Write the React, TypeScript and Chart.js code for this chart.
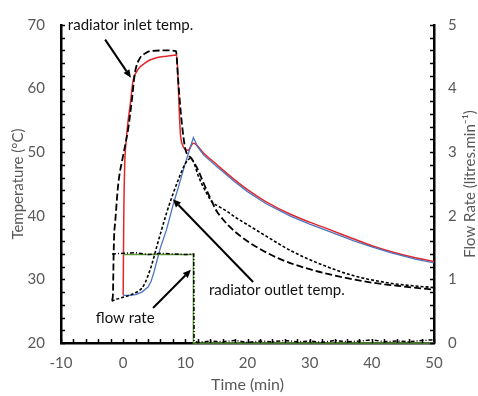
import React, { useEffect, useRef } from 'react';
import { Chart, registerables } from 'chart.js';

Chart.register(...registerables);

// ---- Data ----
const inletModelT = [0, 0.1, 0.25, 0.5, 0.8, 1.1, 1.6, 2.2, 2.7, 3.5, 4.3, 5.5, 7, 8.6, 8.8, 9.0, 9.2, 9.6, 10.4, 11.3, 13, 15, 18, 20, 23, 27, 30, 33, 37, 40, 43, 47, 50];
const inletModelV = [27.5, 40, 48, 52, 55, 57.2, 61.3, 62.7, 63.4, 64.0, 64.5, 64.9, 65.1, 65.3, 62.2, 57, 53, 51, 50.3, 51.4, 49.8, 48.1, 45.6, 44.1, 42.2, 40.2, 39.0, 37.9, 36.4, 35.3, 34.4, 33.4, 32.8];

const outletModelT = [0, 1, 2, 3, 4, 4.5, 5, 5.5, 6, 7, 8, 9, 10, 11.3, 12, 13, 15, 18, 20, 23, 27, 30, 33, 37, 40, 43, 47, 50];
const outletModelV = [27.5, 27.5, 27.6, 28.0, 28.8, 29.7, 31.3, 33.2, 35.0, 37.9, 41.6, 44.9, 48.3, 52.3, 50.8, 49.5, 47.8, 45.3, 43.8, 41.9, 39.9, 38.7, 37.6, 36.1, 35.1, 34.2, 33.2, 32.6];

const inletMeasT = [-1.8, -1.65, -1.55, -1.45, -1.3, -0.8, 0, 0.3, 0.8, 1.4, 1.9, 2.7, 3.5, 4.3, 7, 8.5, 8.8, 9.2, 9.5, 10, 11, 12, 13, 14, 15, 16, 17, 20, 25, 30, 35, 40, 45, 50];
const inletMeasV = [26.7, 27.5, 33, 37, 38.8, 44.9, 49.5, 51, 53.6, 58.2, 62.5, 64.8, 65.5, 65.9, 66.0, 65.9, 62, 57, 54, 50.5, 49, 47.3, 45, 42.8, 40.8, 39.5, 38.4, 36, 33.3, 31.6, 30.4, 29.5, 28.9, 28.4];

const outletMeasT = [-1.85, -1, 0, 1, 2, 3, 3.5, 4, 4.5, 5, 5.5, 6, 7, 8, 9, 10, 10.8, 11.3, 12, 12.7, 13.5, 14.3, 15.5, 16.7, 18, 20, 23, 27, 32, 37, 43, 50];
const outletMeasV = [26.6, 26.9, 27.2, 27.5, 27.9, 28.6, 29.4, 30.6, 32.0, 33.7, 35.5, 37.2, 40.5, 43.4, 46.0, 48.2, 49.0, 48.5, 46.5, 44.9, 43.4, 42.2, 41.4, 40.7, 39.8, 38.6, 36.8, 34.5, 32.3, 30.6, 29.4, 28.7];

const flowMeasT = [-1.8, 0, 2, 4, 6, 8, 10, 11.35, 11.4, 12, 14, 16, 18, 20, 22, 24, 26, 28, 30, 32, 34, 36, 38, 40, 42, 44, 46, 48, 50];
const flowMeasV = [1.40, 1.41, 1.42, 1.39, 1.41, 1.40, 1.39, 1.40, 0.03, 0.01, 0.03, 0.02, 0.04, 0.01, 0.03, 0.02, 0.04, 0.02, 0.03, 0.01, 0.04, 0.02, 0.03, 0.05, 0.02, 0.03, 0.02, 0.04, 0.05];

const flowModelT = [0, 11.3, 11.3, 50];
const flowModelV = [1.39, 1.39, 0, 0];

const xTicks = [-10, 0, 10, 20, 30, 40, 50];
const tempTicks = [20, 30, 40, 50, 60, 70];
const flowTicks = [0, 1, 2, 3, 4, 5];

// annotations: [text, t, temp] and arrows [t1, temp1, t2, temp2]
const labelTexts = ['radiator inlet temp.', 'radiator outlet temp.', 'flow rate'];
const labelPos = [[-8.9, 69.2], [13.8, 27.6], [-4.4, 23.2]];
const arrows = [[-2.9, 67.7, 1.25, 61.7], [20.9, 29.6, 8.0, 42.6], [4.8, 25.5, 10.9, 31.5]];

const pts = (t: number[], v: number[]) => t.map((x, i) => ({ x, y: v[i] }));

const FONT = 'Lato, "Open Sans", sans-serif';
const GREY = '#595959';

const decorPlugin = {
  id: 'decor',
  afterDraw(chart: any) {
    const ctx = chart.ctx;
    const xs = chart.scales.x;
    const ys = chart.scales.y;
    const fs = chart.scales.y1;
    const area = chart.chartArea;
    ctx.save();
    // minor/major ticks inward
    ctx.strokeStyle = '#000';
    ctx.lineWidth = 1.5;
    ctx.beginPath();
    for (let v = 20; v <= 70; v += 2) {
      const y = Math.round(ys.getPixelForValue(v)) + 0.5;
      ctx.moveTo(area.left, y);
      ctx.lineTo(area.left + 4, y);
    }
    for (let t = -10; t <= 50; t += 2) {
      const x = Math.round(xs.getPixelForValue(t)) + 0.5;
      ctx.moveTo(x, area.bottom);
      ctx.lineTo(x, area.bottom - 4);
    }
    for (let i = 0; i <= 25; i++) {
      const y = Math.round(fs.getPixelForValue(i * 0.2)) + 0.5;
      ctx.moveTo(area.right, y);
      ctx.lineTo(area.right - 4, y);
    }
    ctx.stroke();

    // axis titles
    ctx.fillStyle = GREY;
    ctx.font = `16px ${FONT}`;
    ctx.textAlign = 'center';
    ctx.textBaseline = 'middle';
    ctx.fillText('Time (min)', (area.left + area.right) / 2, 385);
    const cy = (area.top + area.bottom) / 2;
    ctx.font = `15px ${FONT}`;
    ctx.save();
    ctx.translate(18, cy);
    ctx.rotate(-Math.PI / 2);
    ctx.fillText('Temperature (°C)', 0, 0);
    ctx.restore();
    ctx.save();
    ctx.translate(470, cy);
    ctx.rotate(-Math.PI / 2);
    ctx.fillText('Flow Rate (litres.min⁻¹)', 0, 0);
    ctx.restore();

    // annotations
    ctx.fillStyle = '#111';
    ctx.font = `15px ${FONT}`;
    ctx.textAlign = 'left';
    ctx.textBaseline = 'alphabetic';
    labelTexts.forEach((s, i) => {
      ctx.fillText(s, xs.getPixelForValue(labelPos[i][0]), ys.getPixelForValue(labelPos[i][1]));
    });
    ctx.strokeStyle = '#000';
    ctx.fillStyle = '#000';
    ctx.lineWidth = 2;
    arrows.forEach(a => {
      const x1 = xs.getPixelForValue(a[0]);
      const y1 = ys.getPixelForValue(a[1]);
      const x2 = xs.getPixelForValue(a[2]);
      const y2 = ys.getPixelForValue(a[3]);
      const ang = Math.atan2(y2 - y1, x2 - x1);
      const hl = 8, hw = 3.5;
      const bx = x2 - hl * Math.cos(ang);
      const by = y2 - hl * Math.sin(ang);
      ctx.beginPath();
      ctx.moveTo(x1, y1);
      ctx.lineTo(bx, by);
      ctx.stroke();
      ctx.beginPath();
      ctx.moveTo(x2, y2);
      ctx.lineTo(bx + hw * Math.sin(ang), by - hw * Math.cos(ang));
      ctx.lineTo(bx - hw * Math.sin(ang), by + hw * Math.cos(ang));
      ctx.closePath();
      ctx.fill();
    });
    ctx.restore();
  },
};

export default function App() {
  const ref = useRef<HTMLCanvasElement | null>(null);
  useEffect(() => {
    if (!ref.current) return;
    const common = { pointRadius: 0, fill: false, cubicInterpolationMode: 'monotone' as const };
    const chart = new Chart(ref.current, {
      type: 'line',
      data: {
        datasets: [
          { ...common, label: 'flow measured', data: pts(flowMeasT, flowMeasV), yAxisID: 'y1', borderColor: '#000', borderWidth: 1.5, borderDash: [4, 2, 1, 2], cubicInterpolationMode: 'default', tension: 0, clip: 6 } as any,
          { ...common, label: 'flow model', data: pts(flowModelT, flowModelV), yAxisID: 'y1', borderColor: '#5f9b3a', borderWidth: 1.5, cubicInterpolationMode: 'default', tension: 0, clip: 6 } as any,
          { ...common, label: 'outlet measured', data: pts(outletMeasT, outletMeasV), yAxisID: 'y', borderColor: '#000', borderWidth: 1.6, borderDash: [3, 2] },
          { ...common, label: 'inlet measured', data: pts(inletMeasT, inletMeasV), yAxisID: 'y', borderColor: '#000', borderWidth: 1.8, borderDash: [7, 3] },
          { ...common, label: 'outlet model', data: pts(outletModelT, outletModelV), yAxisID: 'y', borderColor: '#4a74c0', borderWidth: 1.3, cubicInterpolationMode: 'default', tension: 0 } as any,
          { ...common, label: 'inlet model', data: pts(inletModelT, inletModelV), yAxisID: 'y', borderColor: '#e3262b', borderWidth: 1.5 },
        ],
      },
      options: {
        responsive: false,
        animation: false,
        events: [],
        layout: { padding: { top: 16, left: 0, right: 0, bottom: 0 } },
        plugins: { legend: { display: false }, tooltip: { enabled: false } },
        scales: {
          x: {
            type: 'linear', min: -10, max: 50,
            afterBuildTicks: (s: any) => { s.ticks = xTicks.map(v => ({ value: v })); },
            afterFit: (s: any) => { s.height = 53; },
            grid: { display: false, drawTicks: false },
            border: { display: true, color: '#000', width: 2.5 },
            ticks: { color: GREY, font: { family: FONT, size: 15 }, padding: 11, maxRotation: 0 },
          },
          y: {
            type: 'linear', position: 'left', min: 20, max: 70,
            afterBuildTicks: (s: any) => { s.ticks = tempTicks.map(v => ({ value: v })); },
            afterFit: (s: any) => { s.width = 61; },
            grid: { display: false, drawTicks: false },
            border: { display: true, color: '#000', width: 2.5 },
            ticks: { color: GREY, font: { family: FONT, size: 15 }, padding: 16 },
          },
          y1: {
            type: 'linear', position: 'right', min: 0, max: 5,
            afterBuildTicks: (s: any) => { s.ticks = flowTicks.map(v => ({ value: v })); },
            afterFit: (s: any) => { s.width = 44; },
            grid: { display: false, drawTicks: false },
            border: { display: true, color: '#000', width: 2.5 },
            ticks: { color: GREY, font: { family: FONT, size: 15 }, padding: 14 },
          },
        },
      } as any,
      plugins: [decorPlugin],
    });
    return () => chart.destroy();
  }, []);
  return (
    <div style={{ position: 'fixed', left: 0, top: 0, width: 478, height: 396, background: '#fff' }}>
      <canvas ref={ref} width={478} height={396} style={{ display: 'block' }} />
    </div>
  );
}
